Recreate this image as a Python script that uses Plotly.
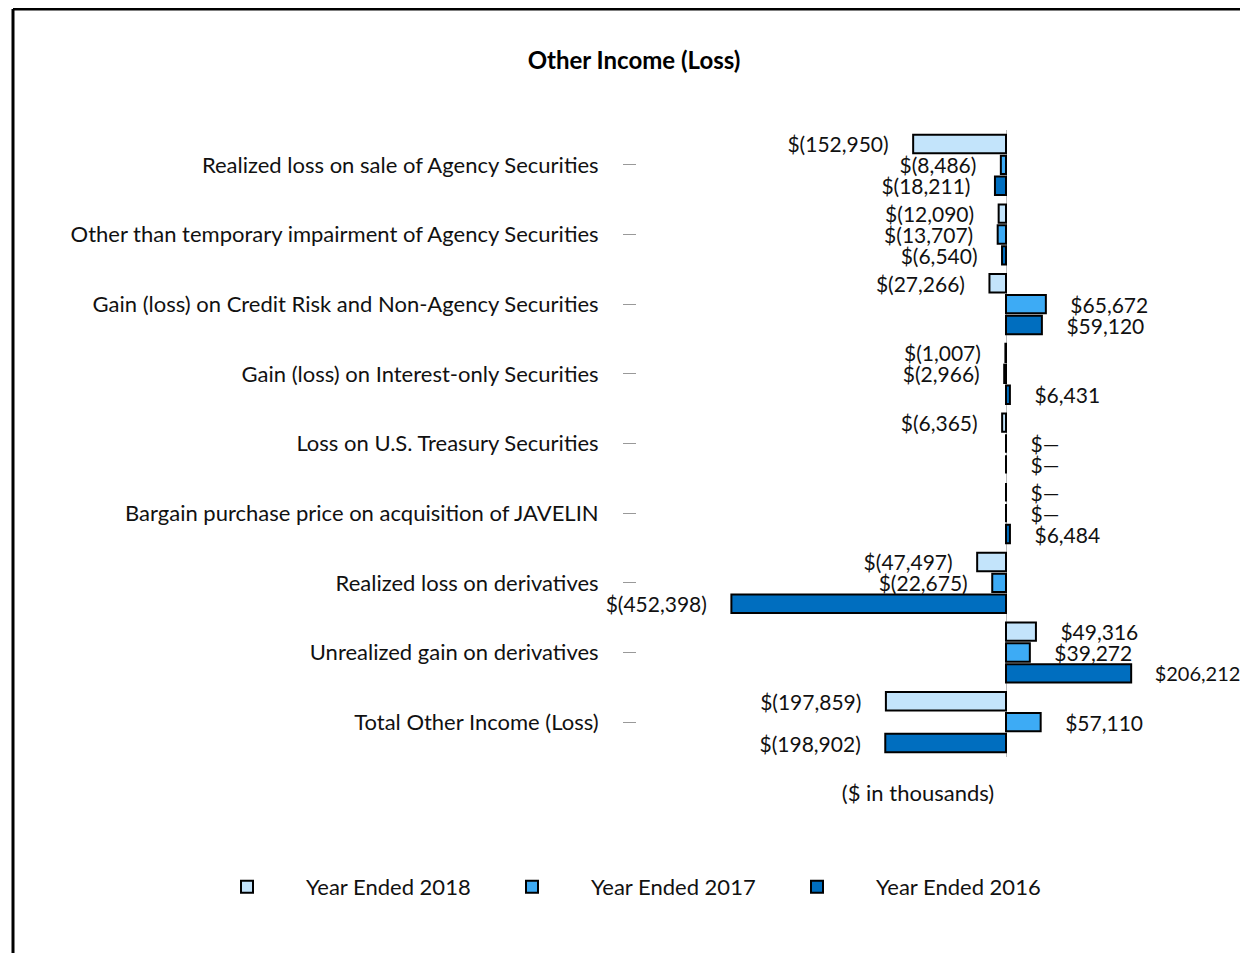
import plotly.graph_objects as go

categories = [
    "Realized loss on sale of Agency Securities",
    "Other than temporary impairment of Agency Securities",
    "Gain (loss) on Credit Risk and Non-Agency Securities",
    "Gain (loss) on Interest-only Securities",
    "Loss on U.S. Treasury Securities",
    "Bargain purchase price on acquisition of JAVELIN",
    "Realized loss on derivatives",
    "Unrealized gain on derivatives",
    "Total Other Income (Loss)",
]
series_names = ["Year Ended 2018", "Year Ended 2017", "Year Ended 2016"]
values_2018 = [-152950, -12090, -27266, -1007, -6365, 0, -47497, 49316, -197859]
values_2017 = [-8486, -13707, 65672, -2966, 0, 0, -22675, 39272, 57110]
values_2016 = [-18211, -6540, 59120, 6431, 0, 6484, -452398, 206212, -198902]
colors = ["#C3E4FB", "#3DABF5", "#006EBF"]

FONT = "Lato"
FS = 22
LABEL_FS = 21
PAD = "\u00a0" * 4


def fmt(v):
    if v == 0:
        return PAD + "$\u2014"
    if v < 0:
        return "$({:,})".format(-v) + PAD
    return PAD + "${:,}".format(v)


def label_size(v):
    # keep labels of very long positive bars inside the page edge
    return LABEL_FS - 1 if v > 200000 else LABEL_FS


fig = go.Figure()
for name, vals, col in zip(series_names, [values_2018, values_2017, values_2016], colors):
    fig.add_trace(go.Bar(
        y=categories, x=vals, name=name, orientation="h",
        marker=dict(color=col, line=dict(color="#000000", width=2)),
        text=[fmt(v) for v in vals], textposition="outside",
        textfont=dict(family=FONT, size=[label_size(v) for v in vals], color="#111111"),
        constraintext="none", cliponaxis=False,
    ))

# page has an 8px body margin, so the figure is 8px smaller and coordinates shift by 8
W, H = 1240, 945
L, R, T, B = 629, 49, 122, 196
pw, ph = W - L - R, H - T - B
ZERO = 998
SCALE = 0.000607

fig.update_layout(
    width=W, height=H,
    margin=dict(l=L, r=R, t=T, b=B),
    paper_bgcolor="white", plot_bgcolor="white",
    barmode="group", bargap=0.1, bargroupgap=0.12,
    font=dict(family=FONT, size=FS, color="#111111"),
    title=dict(text="<b>Other Income (Loss)</b>", x=626 / W, xanchor="center",
               y=1 - 53 / H, yanchor="middle", font=dict(family=FONT, size=24, color="#000000")),
    showlegend=True,
    legend=dict(orientation="h", x=(180 - L) / pw, xanchor="left", y=(T + ph - 879) / ph, yanchor="middle",
                entrywidth=162, entrywidthmode="pixels", itemwidth=108,
                font=dict(family=FONT, size=FS, color="#111111"), traceorder="normal"),
    xaxis=dict(range=[-(ZERO - L) / SCALE, (W - R - ZERO) / SCALE],
               showticklabels=False, showgrid=False, showline=False, ticks="",
               zeroline=True, zerolinecolor="#BBBBBB", zerolinewidth=1,
               title=dict(text="($ in thousands)", standoff=28, font=dict(family=FONT, size=FS, color="#111111"))),
    yaxis=dict(autorange="reversed", showgrid=False, showline=False, zeroline=False,
               ticks="outside", ticklen=13, tickcolor="#999999", tickwidth=1,
               ticklabelstandoff=20, tickfont=dict(family=FONT, size=FS, color="#111111")),
    shapes=[
        dict(type="line", xref="paper", yref="paper", x0=(5 - L) / pw, x1=2.0,
             y0=(T + ph - 1) / ph, y1=(T + ph - 1) / ph, line=dict(color="#000000", width=3)),
        dict(type="line", xref="paper", yref="paper", x0=(5 - L) / pw, x1=(5 - L) / pw,
             y0=(T + ph - 1) / ph, y1=-1.0, line=dict(color="#000000", width=3)),
    ],
)

fig.write_html("out.html")
